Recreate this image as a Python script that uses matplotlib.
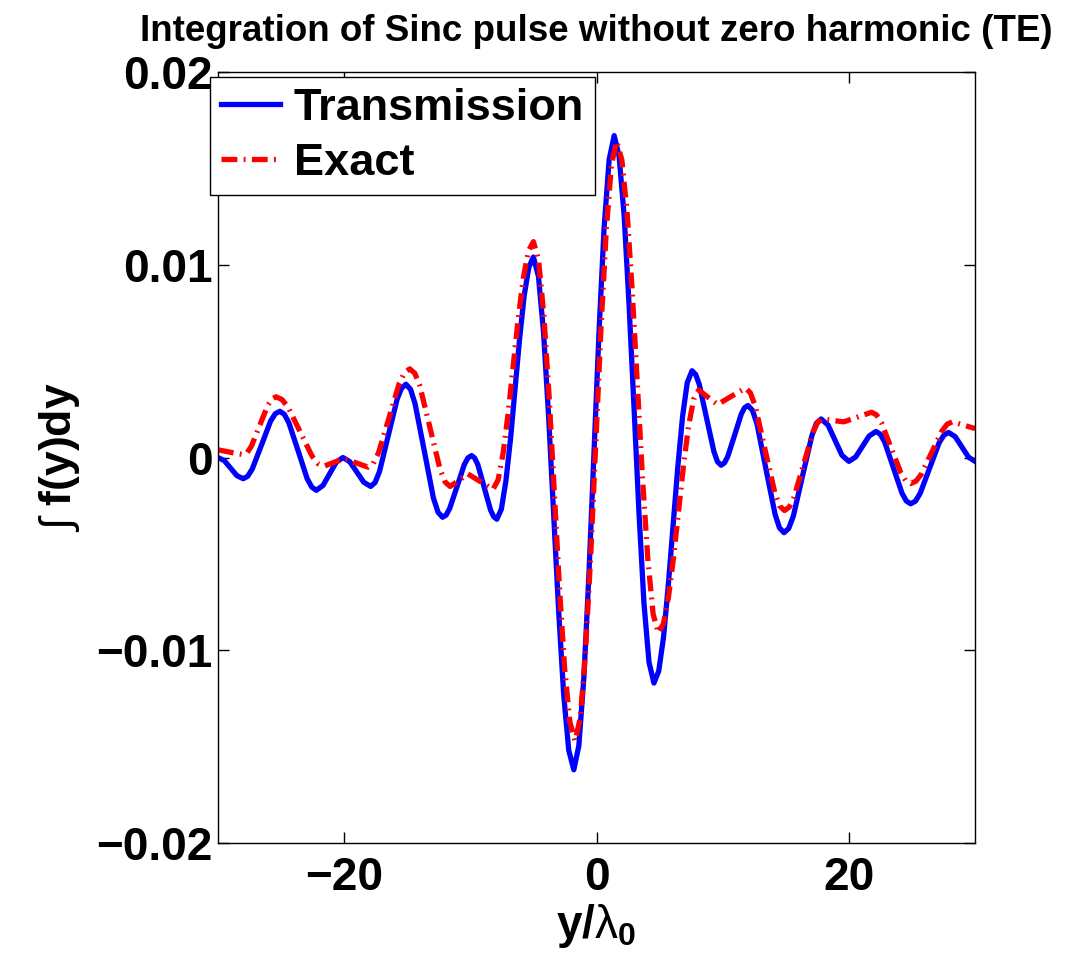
import matplotlib
matplotlib.use('Agg')
import matplotlib.pyplot as plt
import numpy as np

plt.rcParams['font.family'] = ['Liberation Sans', 'DejaVu Sans']
plt.rcParams['mathtext.fontset'] = 'custom'
plt.rcParams['mathtext.rm'] = 'Liberation Sans'
plt.rcParams['mathtext.bf'] = 'Liberation Sans:bold'
plt.rcParams['mathtext.it'] = 'Liberation Sans:italic'

# y/lambda_0 positions and values (values in units of 1e-3)
trans_x = [-30.0, -29.5, -29.0, -28.5, -28.0,
           -27.64, -27.28, -26.55, -25.83, -25.46, -25.1,
           -24.74, -24.38, -23.65, -22.93, -22.56, -22.2,
           -21.68, -21.15, -20.63, -20.1,
           -19.55, -19.0, -18.45, -17.9,
           -17.55, -17.2, -16.5, -15.8, -15.45, -15.1,
           -14.74, -14.38, -13.65, -12.93, -12.56, -12.2,
           -11.91, -11.63, -11.05, -10.48, -10.19, -9.9,
           -9.65, -9.4, -8.9, -8.4, -8.15, -7.9,
           -7.54, -7.18, -6.81, -6.45, -6.09, -5.73, -5.36, -5.0,
           -4.6, -4.2, -3.8, -3.4, -3.0, -2.6, -2.2, -1.8,
           -1.4, -1.0, -0.6, -0.2, 0.2, 0.6, 1.0, 1.4,
           1.79, 2.19, 2.58, 2.98, 3.37, 3.76, 4.16, 4.55,
           4.93, 5.31, 5.68, 6.06, 6.44, 6.82, 7.19, 7.57,
           7.86, 8.15, 8.72, 9.3, 9.58, 9.87,
           10.14, 10.4, 10.94, 11.47, 11.73, 12.0,
           12.36, 12.72, 13.43, 14.15, 14.5, 14.86,
           15.23, 15.6, 16.33, 17.07, 17.43, 17.8,
           18.35, 18.9, 19.45, 20.0,
           20.54, 21.08, 21.61, 22.15,
           22.49, 22.84, 23.53, 24.21, 24.56, 24.9,
           25.28, 25.65, 26.4, 27.15, 27.53, 27.9,
           28.43, 28.95, 29.48, 30.0]
trans_y = [0.0, -0.16, -0.55, -0.94, -1.1,
           -0.97, -0.59, 0.65, 1.89, 2.27, 2.4,
           2.24, 1.80, 0.35, -1.10, -1.54, -1.7,
           -1.45, -0.85, -0.25, 0.0,
           -0.22, -0.75, -1.28, -1.5,
           -1.30, -0.73, 1.15, 3.03, 3.60, 3.8,
           3.54, 2.79, 0.35, -2.09, -2.84, -3.1,
           -2.98, -2.63, -1.5, -0.37, -0.02, 0.1,
           -0.03, -0.38, -1.55, -2.72, -3.07, -3.2,
           -2.68, -1.21, 1.0, 3.6, 6.2, 8.41, 9.88, 10.4,
           9.39, 6.52, 2.18, -2.9, -7.98, -12.32, -15.19, -16.2,
           -14.95, -11.4, -6.03, 0.25, 6.53, 11.9, 15.45, 16.7,
           15.62, 12.55, 7.92, 2.5, -2.92, -7.55, -10.62, -11.7,
           -11.08, -9.33, -6.69, -3.6, -0.51, 2.13, 3.88, 4.5,
           4.31, 3.78, 2.05, 0.32, -0.21, -0.4,
           -0.28, 0.05, 1.15, 2.25, 2.58, 2.7,
           2.45, 1.74, -0.6, -2.94, -3.65, -3.9,
           -3.68, -3.04, -0.95, 1.14, 1.78, 2.0,
           1.68, 0.9, 0.12, -0.2,
           0.03, 0.58, 1.12, 1.35,
           1.21, 0.80, -0.53, -1.85, -2.26, -2.4,
           -2.26, -1.86, -0.55, 0.76, 1.16, 1.3,
           1.08, 0.55, 0.02, -0.2]

exact_x = [-30.0, -29.0, -28.0,
           -27.68, -27.35, -26.7, -26.05, -25.73, -25.4,
           -24.93, -24.45, -23.5, -22.55, -22.08, -21.6,
           -20.8, -20.0, -19.05, -18.1,
           -17.69, -17.28, -16.45, -15.63, -15.21, -14.8,
           -14.4, -14.0, -13.2, -12.4, -12.0, -11.6,
           -10.9, -10.2, -9.2, -8.2,
           -7.8, -7.4, -7.0, -6.6, -6.2, -5.8, -5.4, -5.0,
           -4.59, -4.18, -3.76, -3.35, -2.94, -2.53, -2.11, -1.7,
           -1.29, -0.88, -0.46, -0.05, 0.36, 0.78, 1.19, 1.6,
           2.01, 2.43, 2.84, 3.25, 3.66, 4.08, 4.49, 4.9,
           5.3, 5.7, 6.1, 6.5, 6.9, 7.3, 7.7, 8.1,
           8.85, 9.6, 10.7, 11.8,
           12.19, 12.58, 13.35, 14.13, 14.51, 14.9,
           15.28, 15.65, 16.4, 17.15, 17.53, 17.9,
           18.75, 19.6, 20.7, 21.8,
           22.19, 22.58, 23.35, 24.13, 24.51, 24.9,
           25.31, 25.73, 26.55, 27.38, 27.79, 28.2,
           29.1, 30.0]
exact_y = [0.4, 0.27, 0.15,
           0.26, 0.59, 1.65, 2.71, 3.04, 3.15,
           3.01, 2.62, 1.35, 0.08, -0.31, -0.45,
           -0.25, -0.05, -0.28, -0.5,
           -0.31, 0.24, 2.05, 3.86, 4.41, 4.6,
           4.37, 3.71, 1.55, -0.61, -1.27, -1.5,
           -1.18, -0.85, -1.25, -1.65,
           -1.16, 0.23, 2.32, 4.78, 7.23, 9.32, 10.71, 11.2,
           10.22, 7.42, 3.2, -1.75, -6.7, -10.92, -13.72, -14.7,
           -13.52, -10.16, -5.09, 0.85, 6.79, 11.86, 15.22, 16.4,
           15.43, 12.68, 8.52, 3.65, -1.22, -5.38, -8.13, -9.1,
           -8.62, -7.26, -5.21, -2.8, -0.39, 1.66, 3.02, 3.5,
           3.12, 2.75, 3.18, 3.6,
           3.36, 2.67, 0.43, -1.82, -2.51, -2.75,
           -2.57, -2.06, -0.38, 1.31, 1.82, 2.0,
           1.92, 1.85, 2.1, 2.35,
           2.21, 1.81, 0.5, -0.81, -1.21, -1.35,
           -1.23, -0.88, 0.25, 1.38, 1.73, 1.85,
           1.68, 1.5]

xticks = [-20, 0, 20]
yticks = [-0.02, -0.01, 0, 0.01, 0.02]
ytick_labels = ['\u22120.02', '\u22120.01', '0', '0.01', '0.02']
xtick_labels = ['\u221220', '0', '20']

fig = plt.figure(figsize=(10.78, 9.69), dpi=100)
ax = fig.add_axes([0.2022, 0.130, 0.7023, 0.7957])

ax.plot(trans_x, np.array(trans_y) * 1e-3, color='#0000ff', lw=3.8,
        solid_joinstyle='round', label='Transmission')
ax.plot(exact_x, np.array(exact_y) * 1e-3, color='#ff0000', lw=3.8,
        dashes=[3.0, 1.2, 0.35, 1.2], dash_joinstyle='round', label='Exact')

ax.set_xlim(-30, 30)
ax.set_ylim(-0.02, 0.02)
ax.set_xticks(xticks)
ax.set_xticklabels(xtick_labels)
ax.set_yticks(yticks)
ax.set_yticklabels(ytick_labels)
ax.tick_params(direction='in', length=8, width=1, top=True, right=True,
               labelsize=33)
ax.tick_params(axis='y', pad=4)
ax.tick_params(axis='x', pad=9)
for lab in ax.get_xticklabels() + ax.get_yticklabels():
    lab.set_fontweight('bold')
for s in ax.spines.values():
    s.set_linewidth(1)

ax.set_title('Integration of Sinc pulse without zero harmonic (TE)',
             fontsize=26.5, fontweight='bold', pad=22)
ax.set_xlabel(r'y/$\mathrm{\lambda}_{\mathbf{0}}$', fontsize=33,
              fontweight='bold', labelpad=2)
ax.set_ylabel(r'$\int$ f(y)dy', fontsize=32, fontweight='bold', labelpad=10)

leg = ax.legend(loc='upper left', bbox_to_anchor=(210 / 1078, 1 - 77 / 969),
                bbox_transform=fig.transFigure,
                prop={'weight': 'bold', 'size': 32.5},
                fancybox=False, framealpha=1, edgecolor='black',
                handlelength=1.3, handletextpad=0.3, labelspacing=0.3,
                borderpad=0.25, borderaxespad=0)
leg.get_frame().set_linewidth(1)

fig.savefig('out.png', dpi=100)
